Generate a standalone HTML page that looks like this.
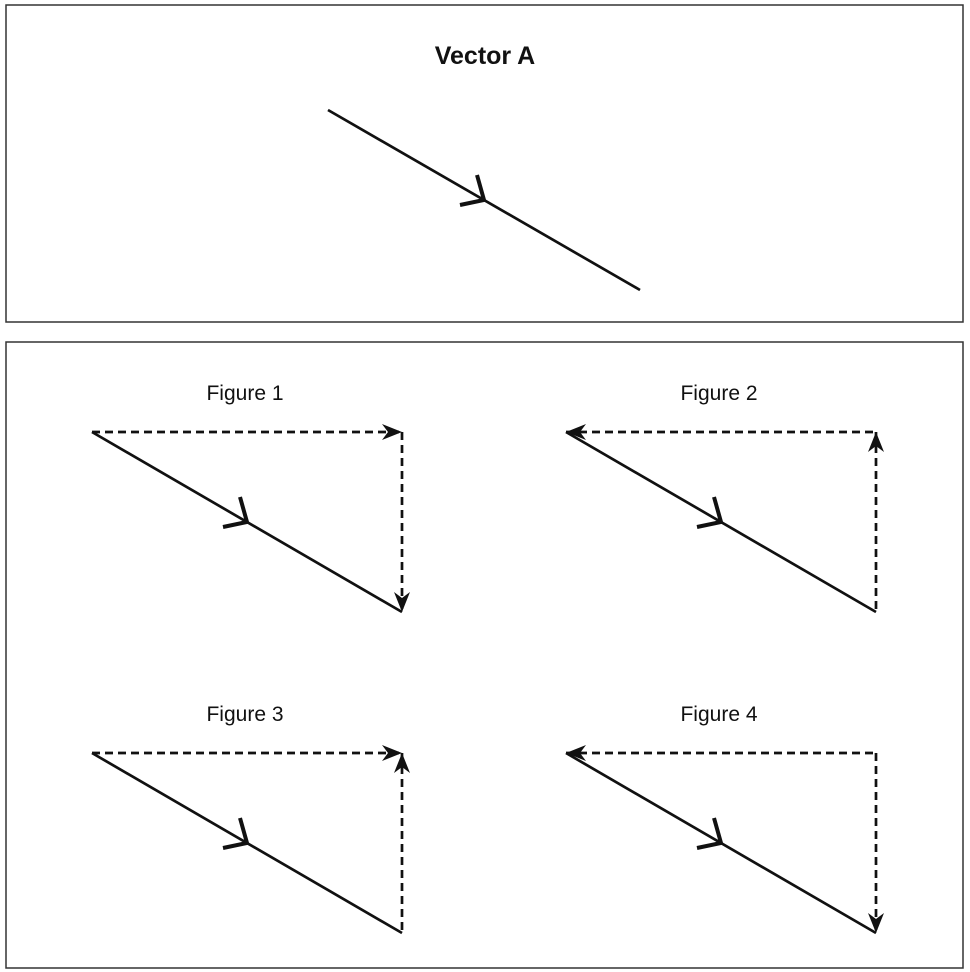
<!DOCTYPE html>
<html><head><meta charset="utf-8"><style>
html,body{margin:0;padding:0;background:#fff;}
svg{display:block;font-family:"Liberation Sans",sans-serif;}
</style></head><body>
<svg width="970" height="972" viewBox="0 0 970 972">
<rect x="6" y="5" width="957" height="317" fill="none" stroke="#333" stroke-width="1.5"/>
<rect x="6" y="342" width="957" height="626" fill="none" stroke="#333" stroke-width="1.5"/>
<text x="485" y="64" text-anchor="middle" font-size="25" font-weight="bold" fill="#111">Vector A</text>
<g id="g"></g>
</svg>
<script>
const figNames=['Figure 1','Figure 2','Figure 3','Figure 4'];
const figOrigins=[[92,432],[566,432],[92,753],[566,753]];
const hDir=['right','left','right','left'];
const vDir=['down','up','up','down'];
const NS='http://www.w3.org/2000/svg';
const g=document.getElementById('g');
function el(t,a){const e=document.createElementNS(NS,t);for(const k in a)e.setAttribute(k,a[k]);g.appendChild(e);return e;}
function arrowHead(x,y,ang){
  const p=el('path',{d:'M0,0 L-20,-8 L-14,0 L-20,8 Z',fill:'#111',transform:`translate(${x},${y}) rotate(${ang})`});
  
  
}
function vector(x1,y1,x2,y2,name){
  const l=el('line',{x1,y1,x2,y2,stroke:'#111','stroke-width':2.7});
  
  
  const mx=(x1+x2)/2, my=(y1+y2)/2;
  const c=el('path',{d:`M${mx-7},${my-25} L${mx},${my} L${mx-24},${my+5}`,fill:'none',stroke:'#111','stroke-width':4});
  
  
}
vector(328,110,640,290,'vector-a');
const W=310,H=180;
figOrigins.forEach((o,i)=>{
  const [x,y]=o;
  const t=el('text',{x:x+153,y:y-32,'text-anchor':'middle','font-size':21,fill:'#111'});
  t.textContent=figNames[i];
  
  
  vector(x,y,x+W,y+H,'figure-'+(i+1)+'-vector');
  const h=el('line',{x1:x,y1:y,x2:x+W,y2:y,stroke:'#111','stroke-width':2.7,'stroke-dasharray':'8 5'});
  
  
  const v=el('line',{x1:x+W,y1:y,x2:x+W,y2:y+H,stroke:'#111','stroke-width':2.7,'stroke-dasharray':'8 5'});
  
  
  if(hDir[i]==='right')arrowHead(x+W,y,0);else arrowHead(x,y,180);
  if(vDir[i]==='down')arrowHead(x+W,y+H,90);else arrowHead(x+W,y,-90);
});
</script>
</body></html>
